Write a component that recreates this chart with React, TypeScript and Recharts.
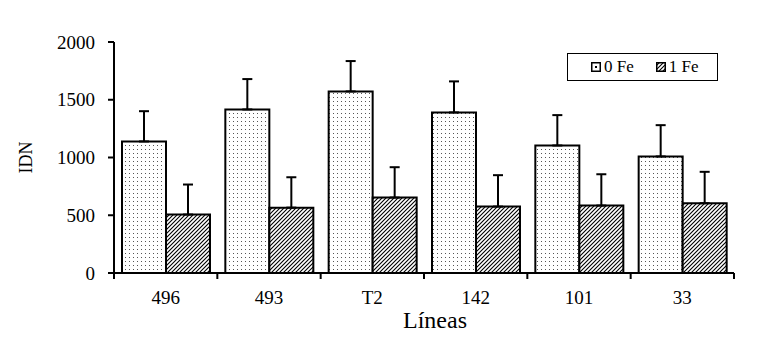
import { BarChart, Bar, XAxis, YAxis, ErrorBar } from 'recharts';

// values
const lineas = ['496', '493', 'T2', '142', '101', '33'];
const fe0 = [1139, 1416, 1572, 1390, 1104, 1009];
const fe0Err = [262, 263, 263, 269, 263, 271];
const fe1 = [506, 566, 653, 575, 584, 604];
const fe1Err = [260, 263, 263, 272, 271, 272];
const yTicks = [0, 500, 1000, 1500, 2000];
const series = ['0 Fe', '1 Fe'];

const data = lineas.map((l, i) => ({
  linea: l,
  fe0: fe0[i],
  fe0Err: [0, fe0Err[i]],
  fe1: fe1[i],
  fe1Err: [0, fe1Err[i]],
}));

const FONT = 'Liberation Serif, Times New Roman, serif';
const W = 750;
const H = 340;
const MARGIN = { top: 34, right: 24, left: 0, bottom: 0 };
const Y_W = 106;
const BAND = (W - MARGIN.left - MARGIN.right - Y_W) / lineas.length;

const LineaTick = (props: any) => {
  const { x, y, payload, index } = props;
  const axisY = y - 6;
  return (
    <g>
      <line x1={x - BAND / 2} x2={x - BAND / 2} y1={axisY} y2={axisY + 6} stroke="#000" strokeWidth={2} />
      {index === lineas.length - 1 && (
        <line x1={x + BAND / 2} x2={x + BAND / 2} y1={axisY} y2={axisY + 6} stroke="#000" strokeWidth={2} />
      )}
      <text x={x} y={axisY + 31} textAnchor="middle" style={{ fontFamily: FONT, fontSize: 19 }} fill="#000">
        {payload.value}
      </text>
    </g>
  );
};

const LineasLabel = (props: any) => {
  const { viewBox } = props;
  return (
    <text
      x={viewBox.x + viewBox.width / 2 + 11}
      y={viewBox.y + viewBox.height - 20}
      textAnchor="middle"
      style={{ fontFamily: FONT, fontSize: 24 }}
      fill="#000"
    >
      Líneas
    </text>
  );
};

const IdnLabel = (props: any) => {
  const { viewBox } = props;
  const cy = viewBox.y + viewBox.height / 2;
  const cx = 18;
  return (
    <text
      x={cx}
      y={cy}
      transform={`rotate(-90, ${cx}, ${cy})`}
      textAnchor="middle"
      dominantBaseline="central"
      style={{ fontFamily: FONT, fontSize: 18 }}
      fill="#000"
    >
      IDN
    </text>
  );
};

const LegendIcon = ({ fill }: { fill: string }) => (
  <svg width={10} height={10} style={{ display: 'block' }}>
    <rect x={0.75} y={0.75} width={8.5} height={8.5} fill={fill} stroke="#000" strokeWidth={1.5} />
  </svg>
);

const LegendBox = () => (
  <div
    style={{
      position: 'absolute',
      left: 559,
      top: 45,
      width: 151,
      height: 28,
      boxSizing: 'border-box',
      border: '1px solid #000',
      background: '#fff',
      display: 'flex',
      alignItems: 'center',
      paddingLeft: 23,
      fontFamily: FONT,
      fontSize: 17,
      color: '#000',
    }}
  >
    <LegendIcon fill="url(#legDot)" />
    <span style={{ marginLeft: 3, marginRight: 22 }}>{series[0]}</span>
    <LegendIcon fill="url(#hatch)" />
    <span style={{ marginLeft: 3 }}>{series[1]}</span>
  </div>
);

export default function App() {
  return (
    <div style={{ width: W, height: H, position: 'relative' }}>
      <svg width={0} height={0} style={{ position: 'absolute' }}>
        <defs>
          <pattern id="dots" width={4} height={4} patternUnits="userSpaceOnUse">
            <rect width={4} height={4} fill="#fff" />
            <rect x={1} y={1} width={1} height={1} fill="#555" />
          </pattern>
          <pattern id="legDot" width={10} height={10} patternUnits="userSpaceOnUse">
            <rect width={10} height={10} fill="#fff" />
            <rect x={4} y={4} width={2} height={2} fill="#000" />
          </pattern>
          <pattern id="hatch" width={4} height={4} patternUnits="userSpaceOnUse">
            <rect width={4} height={4} fill="#fff" />
            <path d="M-1,1 l2,-2 M0,4 l4,-4 M3,5 l2,-2" stroke="#000" strokeWidth={1.1} />
          </pattern>
        </defs>
      </svg>
      <BarChart width={W} height={H} data={data} margin={MARGIN} barCategoryGap={8} barGap={0}>
        <XAxis
          dataKey="linea"
          height={75}
          interval={0}
          tickSize={6}
          tickMargin={0}
          tickLine={false}
          axisLine={{ stroke: '#000', strokeWidth: 2 }}
          tick={<LineaTick />}
          label={<LineasLabel />}
        />
        <YAxis
          width={Y_W}
          domain={[0, 2000]}
          ticks={yTicks}
          interval={0}
          tickSize={6}
          tickMargin={13}
          axisLine={{ stroke: '#000', strokeWidth: 2 }}
          tickLine={{ stroke: '#000', strokeWidth: 2 }}
          tick={{ fill: '#000', style: { fontFamily: FONT, fontSize: 19 } }}
          label={<IdnLabel />}
        />
        <Bar dataKey="fe0" name={series[0]} fill="url(#dots)" stroke="#000" strokeWidth={2} isAnimationActive={false}>
          <ErrorBar dataKey="fe0Err" direction="y" width={5} stroke="#000" strokeWidth={2} />
        </Bar>
        <Bar dataKey="fe1" name={series[1]} fill="url(#hatch)" stroke="#000" strokeWidth={2} isAnimationActive={false}>
          <ErrorBar dataKey="fe1Err" direction="y" width={5} stroke="#000" strokeWidth={2} />
        </Bar>
      </BarChart>
      <LegendBox />
    </div>
  );
}
